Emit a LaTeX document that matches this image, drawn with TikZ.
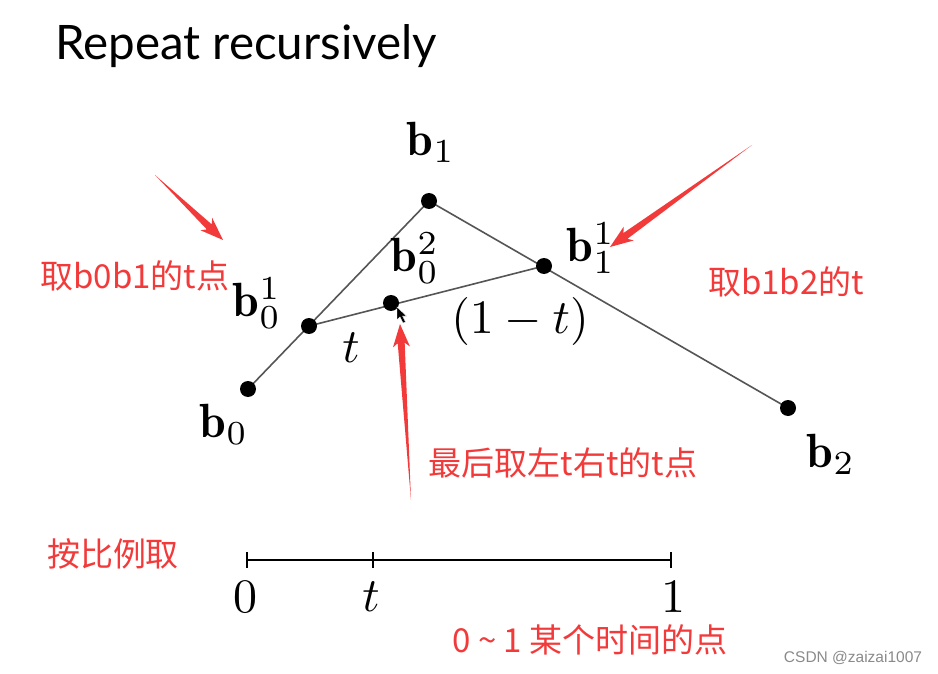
\documentclass[tikz,border=0pt]{standalone}
\usepackage{amsmath}
\usepackage{graphicx}
\usepackage{fontspec}
\newfontfamily\cjk{Noto Sans CJK SC}
\newfontfamily\titlefont{Lato}
\newfontfamily\wmfont{Liberation Sans}
\usetikzlibrary{calc}
\definecolor{annred}{HTML}{F23A3A}
\definecolor{segray}{HTML}{555555}
\definecolor{wmgray}{HTML}{8A8A8A}
\newcommand\mlab[1]{\scalebox{4.8}{$#1$}}
\newcommand\redarrow[2]{%
  \coordinate (rB) at ($(#2)!19pt!(#1)$);
  \coordinate (rW) at ($(#2)!23pt!(#1)$);
  \fill[annred] (#1) -- ($(rB)!3.5pt!90:(#2)$) -- ($(rW)!8.5pt!90:(#2)$) -- (#2)
    -- ($(rW)!8.5pt!-90:(#2)$) -- ($(rB)!3.5pt!-90:(#2)$) -- cycle;
}
\begin{document}
\begin{tikzpicture}[x=1pt,y=-1pt,
  seg/.style={draw=segray, line width=1.6pt},
  dotnode/.style={circle, fill=black, inner sep=0pt, minimum size=16pt},
  mlbl/.style={inner sep=0pt},
  note/.style={inner sep=0pt, text=annred, font=\cjk\fontsize{33}{37}\selectfont},
  axisline/.style={line width=2.8pt, black},
  tickline/.style={line width=2pt, black},
]
\fill[white] (0,0) rectangle (938,674);
\useasboundingbox (0,0) rectangle (938,674);

% title
\node[anchor=base west, inner sep=0pt, font=\titlefont\fontsize{47.5}{52}\selectfont] (title) at (55,60) {Repeat recursively};

% control points
\coordinate (p0) at (248,389);
\coordinate (p1) at (429,201);
\coordinate (p2) at (788,408);
\coordinate (q0) at (309,326);
\coordinate (q1) at (544,266);
\coordinate (r0) at (391,303);

\draw[seg] (p0) -- (p1) -- (p2);
\draw[seg] (q0) -- (q1);

\foreach \p in {p0,p1,p2,q0,q1,r0} {\node[dotnode] (d\p) at (\p) {};}

% cursor
\fill[black, draw=white, line width=0.4pt] (397,307) -- (397,320) -- (400,317) -- (403,323) -- (405.5,322) -- (402.5,316) -- (406.5,316) -- cycle;

% labels
\node[mlbl] (lb1) at (431,142) {\mlab{\mathbf{b}_1}};
\node[mlbl] (lb01) at (257,303) {\mlab{\mathbf{b}_0^1}};
\node[mlbl] (lb02) at (415,258) {\mlab{\mathbf{b}_0^2}};
\node[mlbl] (lb11) at (591,248) {\mlab{\mathbf{b}_1^1}};
\node[mlbl] (lb0) at (224,424) {\mlab{\mathbf{b}_0}};
\node[mlbl] (lb2) at (831,454) {\mlab{\mathbf{b}_2}};
\node[mlbl] (lt) at (351,348) {\mlab{t}};
\node[mlbl] (l1t) at (520,321) {\mlab{(1-t)}};

% axis
\coordinate (a0) at (247,560);
\coordinate (at) at (373,560);
\coordinate (a1) at (671,560);
\draw[axisline] (a0) -- (a1);
\foreach \a in {a0,at,a1} {\draw[tickline] ($(\a)+(0,-8)$) -- ($(\a)+(0,8)$);}
\node[mlbl] (ax0) at (245,597) {\mlab{0}};
\node[mlbl] (axt) at (371,597) {\mlab{t}};
\node[mlbl] (ax1) at (673,597) {\mlab{1}};

% annotations
\node[note] (n1) at (135,276) {取b0b1的t点};
\node[note] (n2) at (786,282) {取b1b2的t};
\node[note] (n3) at (563,463) {最后取左t右t的t点};
\node[note] (n4) at (113,554) {按比例取};
\node[note] (n5) at (590,640) {0 \textasciitilde{} 1 某个时间的点};

% red arrows
\coordinate (t1) at (155,175); \coordinate (h1) at (223,240);
\coordinate (t2) at (752,145); \coordinate (h2) at (610,247);
\coordinate (t3) at (411,500); \coordinate (h3) at (400,324);
\redarrow{t1}{h1}
\redarrow{t2}{h2}
\redarrow{t3}{h3}

% watermark
\node[inner sep=0pt, text=wmgray, font=\wmfont\fontsize{15.5}{18}\selectfont] (wm) at (853,658) {CSDN @zaizai1007};
\end{tikzpicture}
\end{document}
